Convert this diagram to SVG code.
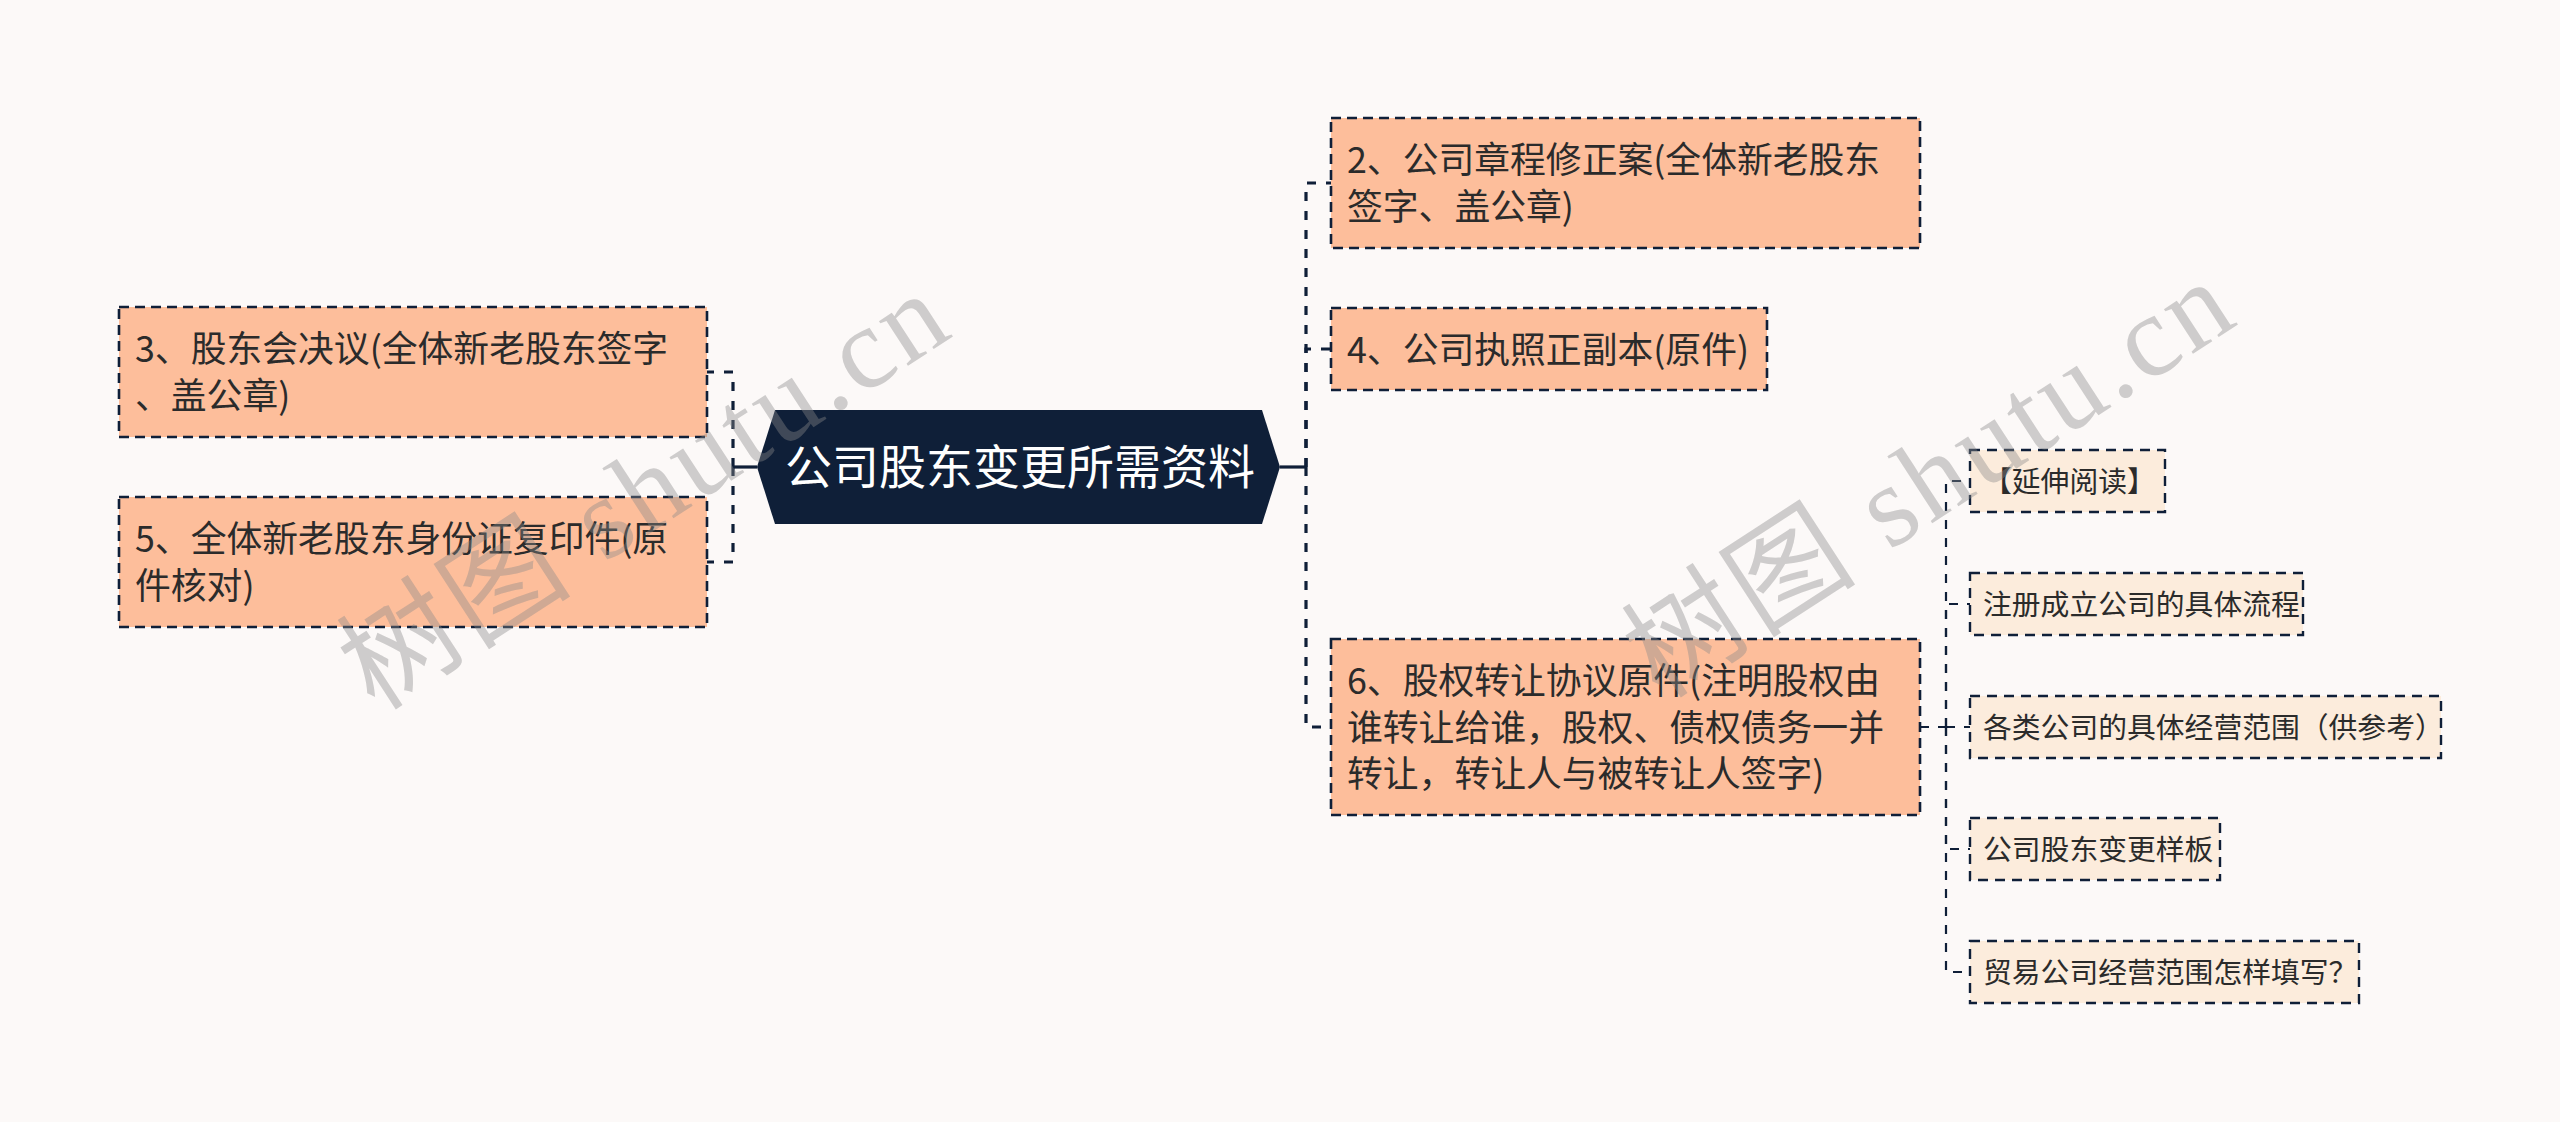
<svg xmlns="http://www.w3.org/2000/svg" width="2560" height="1122" viewBox="0 0 2560 1122">
<style>
.t{font-family:"Noto Sans CJK SC","Noto Sans",sans-serif;fill:#2b2b2b}
.l1{font-size:35.8px}
.l2{font-size:28.8px}
.b1{fill:#fdbe9b;stroke:#0f1f38;stroke-width:2.6;stroke-dasharray:10 6}
.b2{fill:#fcecdc;stroke:#0f1f38;stroke-width:2.4;stroke-dasharray:10 7}
.c1{fill:none;stroke:#0f1f38;stroke-width:3.2;stroke-dasharray:9 10}
.c2{fill:none;stroke:#0f1f38;stroke-width:2.2;stroke-dasharray:9 9}
.cs{fill:none;stroke:#0f1f38;stroke-width:3.2}
.wm{font-family:"Liberation Serif","Noto Sans CJK SC",serif;font-size:116px;fill:#8a8a8a;fill-opacity:0.4;letter-spacing:4px}
</style>
<rect width="2560" height="1122" fill="#fcf9f8"/>
<g id="connectors">
<path class="cs" d="M757,467 H733"/>
<path class="c1" d="M733,467 V372 H707"/>
<path class="c1" d="M733,467 V562 H707"/>
<path class="cs" d="M1280,467 H1306"/>
<path class="c1" d="M1306,467 V183 H1331"/>
<path class="c1" d="M1306,467 V349 H1331"/>
<path class="c1" d="M1306,467 V727 H1331"/>
<path class="c2" d="M1920,727 H1946"/>
<path class="c2" d="M1946,727 V481 H1970"/>
<path class="c2" d="M1946,727 V604 H1970"/>
<path class="c2" d="M1946,727 H1970"/>
<path class="c2" d="M1946,727 V849 H1970"/>
<path class="c2" d="M1946,727 V972 H1970"/>
</g>
<g id="root">
<polygon points="757,467 775,410 1262,410 1280,467 1262,524 775,524" fill="#0f1f38"/>
<text x="1020" y="484" text-anchor="middle" font-family="Noto Sans CJK SC, sans-serif" font-size="47" fill="#ffffff">公司股东变更所需资料</text>
</g>
<g id="n2">
<rect class="b1" x="1331" y="118" width="589" height="130"/>
<text class="t l1" x="1347" y="173">2、公司章程修正案(全体新老股东</text>
<text class="t l1" x="1347" y="219.5">签字、盖公章)</text>
</g>
<g id="n4">
<rect class="b1" x="1331" y="308" width="436" height="82"/>
<text class="t l1" x="1347" y="362.5">4、公司执照正副本(原件)</text>
</g>
<g id="n6">
<rect class="b1" x="1331" y="639" width="589" height="176"/>
<text class="t l1" x="1347" y="694">6、股权转让协议原件(注明股权由</text>
<text class="t l1" x="1347" y="740.5">谁转让给谁，股权、债权债务一并</text>
<text class="t l1" x="1347" y="787">转让，转让人与被转让人签字)</text>
</g>
<g id="n3">
<rect class="b1" x="119" y="307" width="588" height="130"/>
<text class="t l1" x="135" y="362">3、股东会决议(全体新老股东签字</text>
<text class="t l1" x="135" y="408.5">、盖公章)</text>
</g>
<g id="n5">
<rect class="b1" x="119" y="497" width="588" height="130"/>
<text class="t l1" x="135" y="552">5、全体新老股东身份证复印件(原</text>
<text class="t l1" x="135" y="598.5">件核对)</text>
</g>
<g id="s1">
<rect class="b2" x="1970" y="450" width="195" height="62"/>
<text class="t l2" x="1983" y="491.5">【延伸阅读】</text>
</g>
<g id="s2">
<rect class="b2" x="1970" y="573" width="333" height="62"/>
<text class="t l2" x="1983" y="614.5">注册成立公司的具体流程</text>
</g>
<g id="s3">
<rect class="b2" x="1970" y="696" width="471" height="62"/>
<text class="t l2" x="1983" y="737.5">各类公司的具体经营范围（供参考）</text>
</g>
<g id="s4">
<rect class="b2" x="1970" y="818" width="250" height="62"/>
<text class="t l2" x="1983" y="859.5">公司股东变更样板</text>
</g>
<g id="s5">
<rect class="b2" x="1970" y="941" width="389" height="62"/>
<text class="t l2" x="1983" y="982.5">贸易公司经营范围怎样填写？</text>
</g>
<g id="watermark">
<text class="wm" transform="translate(375,712) rotate(-33)">树图 shutu.cn</text>
<text class="wm" transform="translate(1660,700) rotate(-33)">树图 shutu.cn</text>
</g>
</svg>
